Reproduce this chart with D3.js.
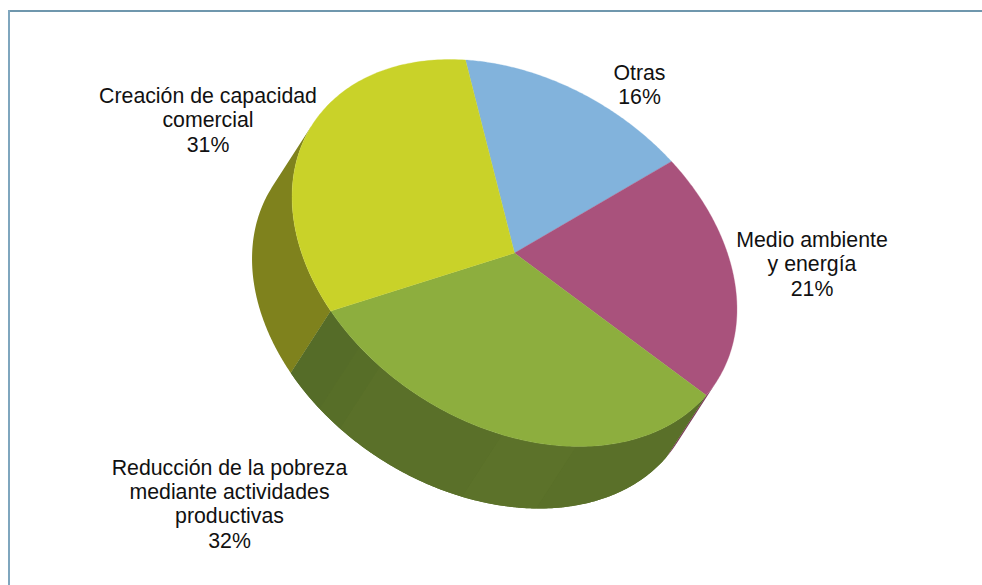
<!DOCTYPE html>
<html><head><meta charset="utf-8">
<script src="https://cdn.jsdelivr.net/npm/d3@7"></script>
<style>html,body{margin:0;padding:0;background:#fff}svg{display:block}text{font-family:"Liberation Sans",Arial,sans-serif;font-size:21.3px;fill:#111;text-anchor:middle}</style>
</head><body><svg id="c" width="982" height="585"></svg>
<script>
const categories=[["Otras"],["Medio ambiente","y energía"],["Reducción de la pobreza","mediante actividades","productivas"],["Creación de capacidad","comercial"]];
const values=[16,21,32,31];
const topColors=["#82b3dc","#a9527c","#8dae3e","#c9d229"];
const wallColors=["#5f86a5","#7d3c5b","#5a7029","#7f821d"];
const labelCenters=[[639.5,80],[812,247],[229.5,474.5],[208,103]];
const greenFacetBreaks=[0,0.377,0.545,0.84,0.90,1];
const greenFacetColors=["#5a7029","#5c722a","#5a7029","#576e28","#556c28"];
const svg=d3.select("#c");
svg.append("line").attr("x1",8).attr("x2",982).attr("y1",11).attr("y2",11).attr("stroke","#6f97ad").attr("stroke-width",2);
svg.append("line").attr("x1",9).attr("x2",9).attr("y1",10).attr("y2",585).attr("stroke","#7fa6be").attr("stroke-width",2);
// tilted-pie projection
const C=[514.5,253],U=[-49,-193],V=[217,14],D=[-40,62];
const proj=(t,o=0)=>[C[0]+U[0]*Math.cos(t)+V[0]*Math.sin(t)+o*D[0],C[1]+U[1]*Math.cos(t)+V[1]*Math.sin(t)+o*D[1]];
const cross=(p,q)=>p[0]*q[1]-p[1]*q[0];
// silhouette: the angles where the extrusion direction is tangent to the ellipse
const tanA=Math.atan2(cross(V,D),cross(U,D)), tanB=tanA+Math.PI;
const arcs=d3.pie().sort(null).value(d=>d)(values);
const line=d3.line();
const samples=(a,b)=>d3.range(0,121).map(i=>a+(b-a)*i/120);
const wallPath=(a,b)=>{const s=samples(a,b);return line([...s.map(t=>proj(t)),...s.slice().reverse().map(t=>proj(t,1))])+"Z";};
const topPath=(a,b)=>line([C,...samples(a,b).map(t=>proj(t))])+"Z";
arcs.forEach((d,i)=>{const a=Math.max(d.startAngle,tanA),b=Math.min(d.endAngle,tanB);
 if(b>a)svg.append("path").attr("d",wallPath(a,b)).attr("fill",wallColors[i]);});
const g=arcs[2],gAt=f=>g.startAngle+(g.endAngle-g.startAngle)*f;
greenFacetColors.forEach((c,i)=>svg.append("path").attr("d",wallPath(gAt(greenFacetBreaks[i]),gAt(greenFacetBreaks[i+1]))).attr("fill",c));
arcs.forEach((d,i)=>svg.append("path").attr("d",topPath(d.startAngle,d.endAngle)).attr("fill",topColors[i]).attr("stroke",topColors[i]).attr("stroke-width",0.3));
categories.forEach((lines,i)=>{const [x,y]=labelCenters[i];const t=svg.append("text");
 [...lines,values[i]+"%"].forEach((s,j)=>t.append("tspan").attr("x",x).attr("y",y+j*24.4).text(s));});
</script></body></html>
